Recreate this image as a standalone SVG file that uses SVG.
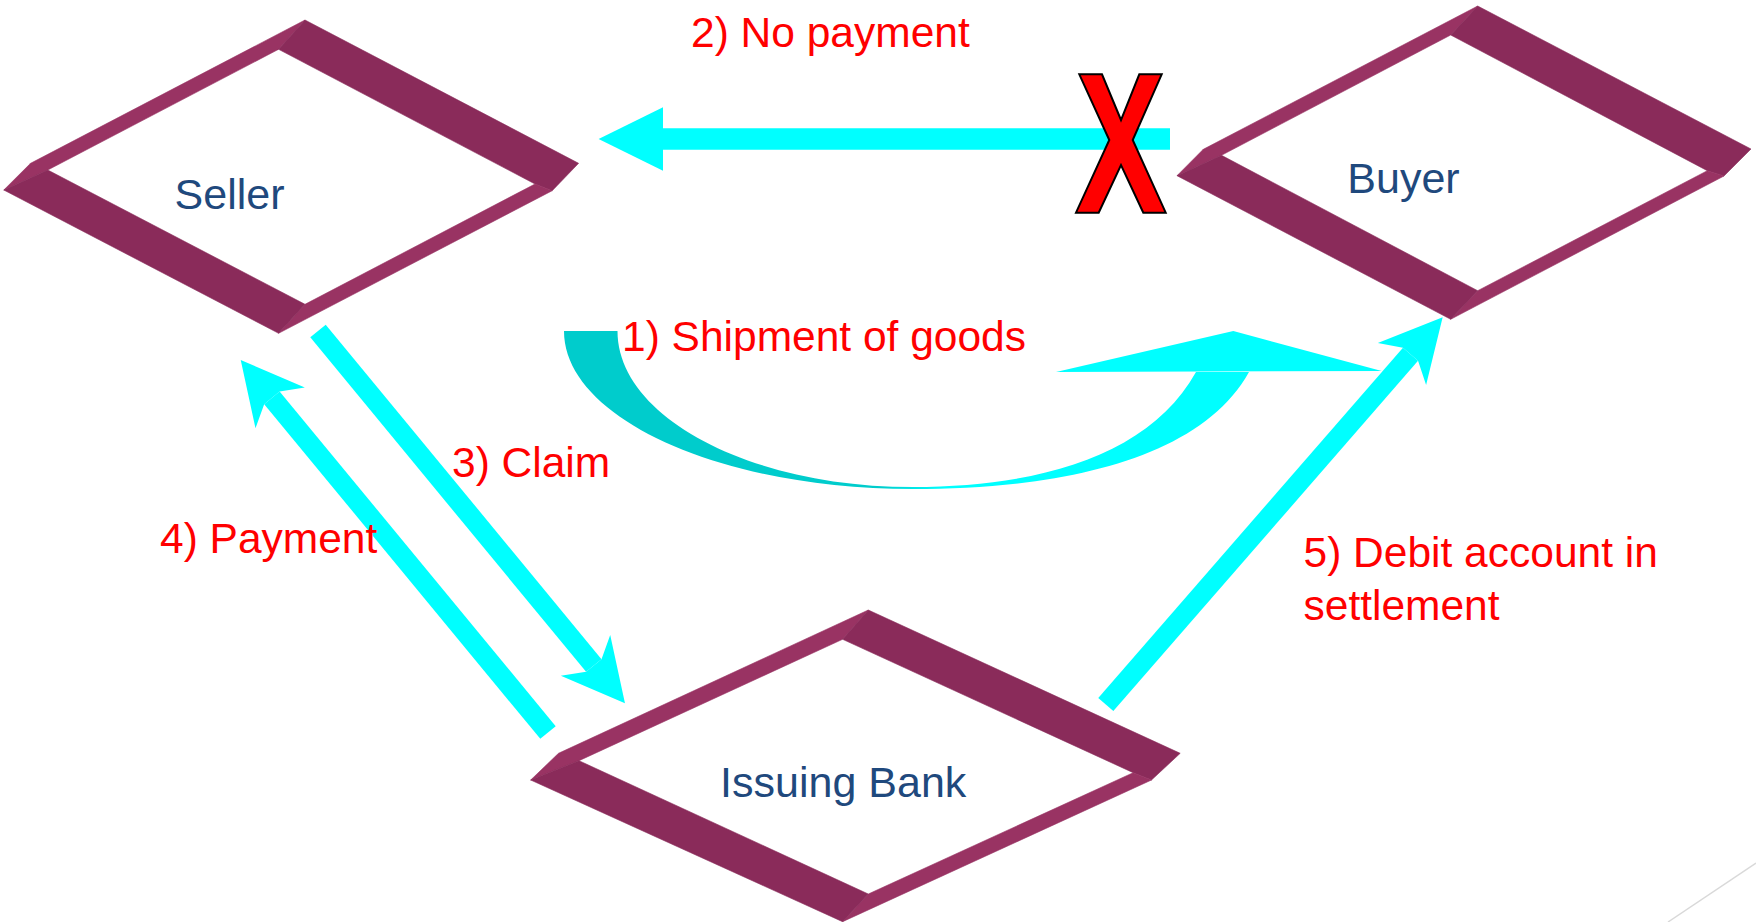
<svg xmlns="http://www.w3.org/2000/svg" width="1756" height="922" viewBox="0 0 1756 922">
  <style>
    .dark { fill: #8a2b5a; stroke: #8a2b5a; stroke-width: 0.6; stroke-linejoin: round; }
    .light { fill: #993363; stroke: #993363; stroke-width: 0.6; stroke-linejoin: round; }
    .node-label { font-family: "Liberation Sans", Arial, sans-serif; font-size: 43px; fill: #1f497d; text-anchor: middle; }
    .step { font-family: "Liberation Sans", Arial, sans-serif; font-size: 42.5px; fill: #ff0000; }
    .shaft { fill: none; stroke: #00ffff; stroke-width: 20; stroke-linecap: butt; }
    .cyan { fill: #00ffff; }
    .cross { fill: #ff0000; stroke: #000000; stroke-width: 2; stroke-linejoin: miter; }
  </style>
  <defs>
    <!-- swept-back arrowhead, origin at the shaft end -->
    <marker id="swept" markerUnits="userSpaceOnUse" orient="auto" refX="0" refY="0" markerWidth="10" markerHeight="10" style="overflow:visible">
      <path d="M49,0 L-13,-32 L0,-10 L0,10 L-13,32 Z" fill="#00ffff"/>
    </marker>
    <!-- plain triangular arrowhead, origin at its base -->
    <marker id="tri" markerUnits="userSpaceOnUse" orient="auto" refX="0" refY="0" markerWidth="10" markerHeight="10" style="overflow:visible">
      <path d="M64.4,0 L0,-31.7 L0,31.7 Z" fill="#00ffff"/>
    </marker>
    <linearGradient id="shipGrad" gradientUnits="userSpaceOnUse" x1="880" y1="0" x2="945" y2="0">
      <stop offset="0" stop-color="#00cccc"/>
      <stop offset="1" stop-color="#00ffff"/>
    </linearGradient>
  </defs>

  <rect x="0" y="0" width="1756" height="922" fill="#ffffff"/>

  <!-- Seller -->
  <g id="seller">
    <polygon class="light" points="3.8,190 30.6,163.3 305,20 278.6,49.3 47.8,170"/>
    <polygon class="dark" points="305,20 578.6,163.3 552.2,190.7 535,184 278.6,49.3"/>
    <polygon class="light" points="535,184 552.2,190.7 278.6,333.3 305,304.3"/>
    <polygon class="dark" points="3.8,190 47.8,170 305,304.3 278.6,333.3"/>
    <text class="node-label" x="229.5" y="208.5">Seller</text>
  </g>

  <!-- Buyer -->
  <g id="buyer">
    <polygon class="light" points="1177,175.7 1203.3,149.3 1477.7,6 1450.7,35 1221.5,155.3"/>
    <polygon class="dark" points="1477.7,6 1751,149 1724,176 1707.3,170.7 1450.7,35"/>
    <polygon class="light" points="1707.3,170.7 1724,176 1450.7,319.3 1477.7,290.7"/>
    <polygon class="dark" points="1177,175.7 1221.5,155.3 1477.7,290.7 1450.7,319.3"/>
    <text class="node-label" x="1403.5" y="193">Buyer</text>
  </g>

  <!-- Issuing Bank -->
  <g id="issuing-bank">
    <polygon class="light" points="530.7,780 558.5,753.3 868.3,610 842.6,639.3 579,760.7"/>
    <polygon class="dark" points="868.3,610 1180.2,753.3 1151.5,780 1133.2,772.7 842.6,639.3"/>
    <polygon class="light" points="1133.2,772.7 1151.5,780 842.6,921.7 868.3,894"/>
    <polygon class="dark" points="530.7,780 579,760.7 868.3,894 842.6,921.7"/>
    <text class="node-label" x="843.2" y="797">Issuing Bank</text>
  </g>

  <!-- Connectors -->
  <g id="connectors">
    <!-- 1) shipment: curved arrow from seller to buyer -->
    <path d="M564,331 C564,418 720,489 913,489 C1060,489 1200,460 1249,372 L1196,372 C1150,455 1040,487 913,487 C749.5,487 617.5,417 617.5,331 Z" fill="url(#shipGrad)"/>
    <polygon class="cyan" points="1056,372 1233.3,331 1381.7,371"/>
    <!-- 2) no payment: buyer to seller -->
    <path d="M1170,139 L663,139" fill="none" stroke="#00ffff" stroke-width="21.4" marker-end="url(#tri)"/>
    <!-- 3) claim: seller to bank -->
    <path class="shaft" d="M318,331 L593.8,665.5" marker-end="url(#swept)"/>
    <!-- 4) payment: bank to seller -->
    <path class="shaft" d="M548,732.5 L271.9,397.8" marker-end="url(#swept)"/>
    <!-- 5) debit: bank to buyer -->
    <path class="shaft" d="M1105.8,704.5 L1410.5,354.3" marker-end="url(#swept)"/>
  </g>

  <!-- blocked-payment cross -->
  <g id="cross">
    <polygon class="cross" points="1079.3,74.3 1102,74.3 1121,120 1139.3,74.3 1161.7,74.3 1132.7,140 1165.7,212.7 1143.3,212.7 1121,165 1098.7,212.7 1076,212.7 1109.3,140"/>
  </g>

  <!-- step labels -->
  <g id="labels">
    <text class="step" x="691" y="46.5">2) No payment</text>
    <text class="step" x="622" y="350.5">1) Shipment of goods</text>
    <text class="step" x="452" y="476.7">3) Claim</text>
    <text class="step" x="160" y="553.3">4) Payment</text>
    <text class="step" x="1303.5" y="567">5) Debit account in</text>
    <text class="step" x="1303.5" y="619.5">settlement</text>
  </g>

  <!-- slide corner rule -->
  <line x1="1756" y1="863" x2="1668" y2="922" stroke="#d9d9d9" stroke-width="1.5"/>
</svg>
